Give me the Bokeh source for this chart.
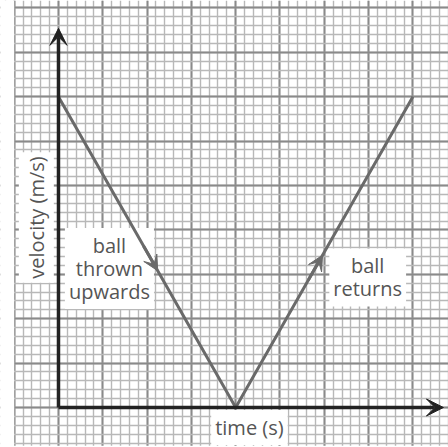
from bokeh.plotting import figure
from bokeh.models import (Range1d, Grid, SingleIntervalTicker, Arrow, VeeHead,
                          Label, BoxAnnotation)
from bokeh.embed import file_html
from bokeh.resources import INLINE

# ---- data ----
time_s = [0, 4, 8]
velocity = [7, 0, 7]
x_label = "time (s)"
y_label = "velocity (m/s)"
note_down = "ball\nthrown\nupwards"
note_up = "ball\nreturns"

FONT = "Open Sans"
TEXT_COLOR = "#555555"
LINE_COLOR = "#6a6a6a"
AXIS_COLOR = "#222222"

p = figure(width=448, height=447, output_backend="svg", toolbar_location=None,
           x_axis_type=None, y_axis_type=None,
           x_range=Range1d(-1.309, 8.804), y_range=Range1d(-0.901, 9.167),
           min_border=0, outline_line_color=None, background_fill_color="white")

# graph paper
for dim in (0, 1):
    g = Grid(dimension=dim, ticker=SingleIntervalTicker(interval=1, num_minor_ticks=5),
             grid_line_color="#8a8a8a", grid_line_width=2,
             minor_grid_line_color="#b8b8b8", minor_grid_line_width=1.4)
    p.add_layout(g, "center")

p.add_layout(BoxAnnotation(right=-1, fill_color="white", fill_alpha=1,
                           line_alpha=0, level="underlay"))
p.add_layout(BoxAnnotation(top=-0.86, fill_color="white", fill_alpha=1,
                           line_alpha=0, level="underlay"))

def lab(x, y, text, angle=0):
    p.add_layout(Label(x=x, y=y, text=text, angle=angle, text_font=FONT,
                       text_font_size="20px", text_color=TEXT_COLOR,
                       text_align="center", text_baseline="middle",
                       text_line_height=0.85, level="underlay",
                       background_fill_color="white", background_fill_alpha=1,
                       padding=4))

lab(1.15, 3.13, note_down)
lab(6.98, 2.93, note_up)
lab(4.31, -0.45, x_label)
lab(-0.5, 4.28, y_label, angle=1.5708)

# V-shaped line
p.line(time_s, velocity, line_color=LINE_COLOR, line_width=3)

# direction arrows on the line
def along(i, f):
    return (time_s[i] + f * (time_s[i + 1] - time_s[i]),
            velocity[i] + f * (velocity[i + 1] - velocity[i]))

for i, f in ((0, 0.56), (1, 0.49)):
    xs, ys = along(i, f - 0.08)
    xe, ye = along(i, f)
    p.add_layout(Arrow(end=VeeHead(size=15, fill_color=LINE_COLOR, line_color=LINE_COLOR),
                       x_start=xs, y_start=ys, x_end=xe, y_end=ye,
                       line_color=LINE_COLOR, line_width=3))

# axes with arrow heads
p.add_layout(Arrow(end=VeeHead(size=17, fill_color=AXIS_COLOR, line_color=AXIS_COLOR),
                   x_start=0, y_start=0, x_end=0, y_end=8.54,
                   line_color=AXIS_COLOR, line_width=3.5))
p.add_layout(Arrow(end=VeeHead(size=17, fill_color=AXIS_COLOR, line_color=AXIS_COLOR),
                   x_start=0, y_start=0, x_end=8.69, y_end=0,
                   line_color=AXIS_COLOR, line_width=3.5))

open("out.html", "w").write(file_html(p, INLINE))
